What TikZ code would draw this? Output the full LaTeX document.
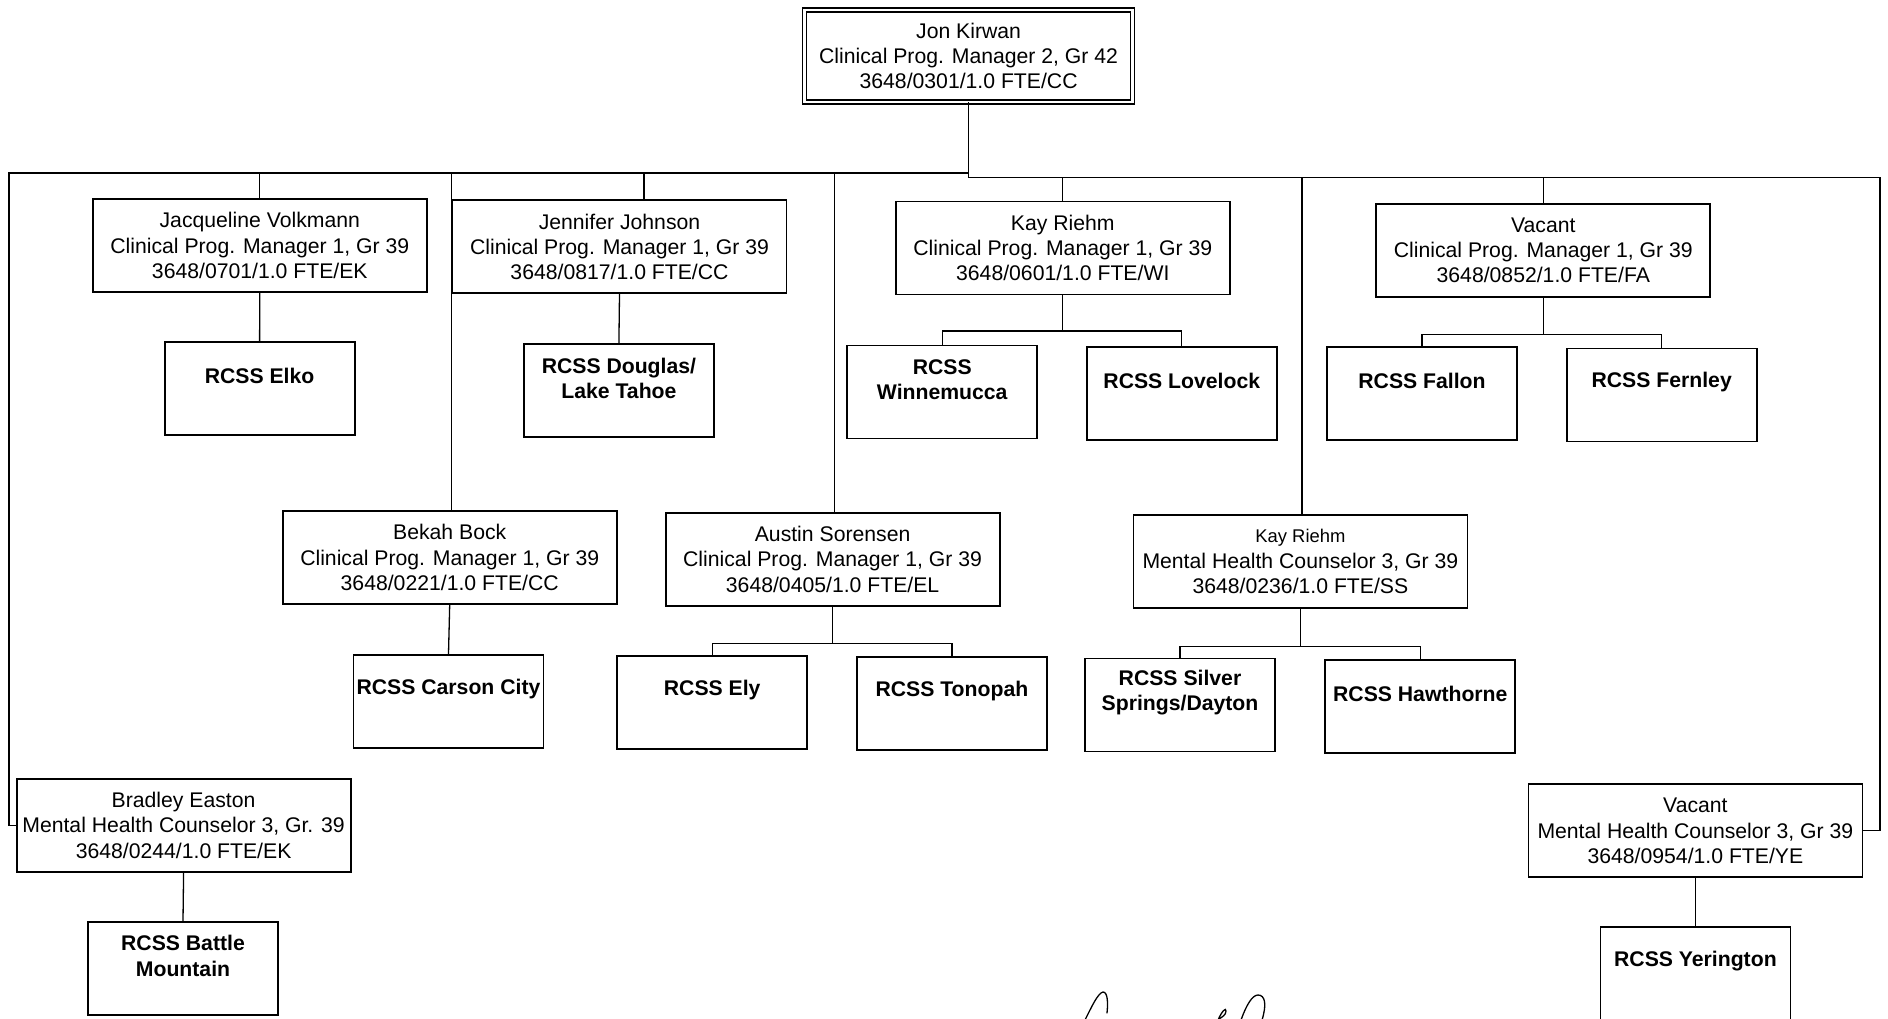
\documentclass[tikz,border=0pt]{standalone}
\usepackage{fontspec}
\setmainfont{Liberation Sans}
\begin{document}
\begin{tikzpicture}[x=1pt,y=-1pt,
  conn/.style={line width=1.3pt,line cap=rect},
  boxbase/.style={draw,line width=1.8pt,inner sep=0pt,fill=white},
  mgr/.style={boxbase,minimum width=334pt,minimum height=93pt,align=center,font=\fontsize{21.2}{25.3}\selectfont},
  site/.style={boxbase,minimum width=190pt,minimum height=93pt},
  sitetext/.style={inner sep=0pt,align=center,font=\bfseries\fontsize{21.2}{25.3}\selectfont},
  topbox/.style={draw,double,double distance=2.6pt,line width=1.4pt,inner sep=0pt,minimum width=328pt,minimum height=92pt,align=center,font=\fontsize{21.2}{25.3}\selectfont},
  sig/.style={line width=1.3pt,line cap=round}]
\useasboundingbox (0,0) rectangle (1888,1018);
\clip (0,0) rectangle (1888,1018);
\fill[white] (0,0) rectangle (1888,1018);

% bus coordinates
\coordinate (busL) at (9,173);
\coordinate (busM) at (968.6,173);
\coordinate (busMR) at (968.6,177.5);
\coordinate (busR) at (1880,177.5);
\coordinate (jjd) at (644,173);
\coordinate (bbd) at (451.5,173);
\coordinate (asd) at (834.5,173);
\coordinate (kr2d) at (1302,177.5);

% top
\node[topbox] (jk) at (968.6,56) {Jon Kirwan\\Clinical Prog. Manager 2, Gr 42\\3648/0301/1.0 FTE/CC};

% row 1 managers
\node[mgr] (jv) at (259.8,245.5) {Jacqueline Volkmann\\Clinical Prog. Manager 1, Gr 39\\3648/0701/1.0 FTE/EK};
\node[mgr] (jj) at (619.5,246.8) {Jennifer Johnson\\Clinical Prog. Manager 1, Gr 39\\3648/0817/1.0 FTE/CC};
\node[mgr] (kr1) at (1062.8,248) {Kay Riehm\\Clinical Prog. Manager 1, Gr 39\\3648/0601/1.0 FTE/WI};
\node[mgr] (vac1) at (1543.3,250.4) {Vacant\\Clinical Prog. Manager 1, Gr 39\\3648/0852/1.0 FTE/FA};

% row 1 sites
\node[site] (elko) at (259.6,388.3) {};
\node[sitetext] (elkot) at ([yshift=12.6pt]elko.center) {RCSS Elko};
\node[site] (doug) at (618.9,390.7) {};
\node[sitetext] (dougt) at ([yshift=12.6pt]doug.center) {RCSS Douglas/\\Lake Tahoe};
\node[site] (winn) at (942.2,392) {};
\node[sitetext] (winnt) at ([yshift=12.6pt]winn.center) {RCSS\\Winnemucca};
\node[site] (love) at (1181.8,393.2) {};
\node[sitetext] (lovet) at ([yshift=12.6pt]love.center) {RCSS Lovelock};
\node[site] (fallon) at (1422,393.8) {};
\node[sitetext] (fallont) at ([yshift=12.6pt]fallon.center) {RCSS Fallon};
\node[site] (fern) at (1661.7,395) {};
\node[sitetext] (fernt) at ([yshift=12.6pt]fern.center) {RCSS Fernley};

% row 2 managers
\node[mgr] (bb) at (449.7,557.5) {Bekah Bock\\Clinical Prog. Manager 1, Gr 39\\3648/0221/1.0 FTE/CC};
\node[mgr] (as) at (832.6,559.3) {Austin Sorensen\\Clinical Prog. Manager 1, Gr 39\\3648/0405/1.0 FTE/EL};
\node[mgr] (kr2) at (1300.4,561.5) {{\fontsize{18.4}{25.3}\selectfont Kay Riehm}\\Mental Health Counselor 3, Gr 39\\3648/0236/1.0 FTE/SS};

% row 2 sites
\node[site] (carson) at (448.5,701.2) {};
\node[sitetext] (carsont) at ([yshift=12.6pt]carson.center) {RCSS Carson City};
\node[site] (ely) at (712.2,702.6) {};
\node[sitetext] (elyt) at ([yshift=12.6pt]ely.center) {RCSS Ely};
\node[site] (tono) at (951.9,703.8) {};
\node[sitetext] (tonot) at ([yshift=12.6pt]tono.center) {RCSS Tonopah};
\node[site] (silver) at (1180,705) {};
\node[sitetext] (silvert) at ([yshift=12.6pt]silver.center) {RCSS Silver\\Springs/Dayton};
\node[site] (haw) at (1420.3,706.2) {};
\node[sitetext] (hawt) at ([yshift=12.6pt]haw.center) {RCSS Hawthorne};

% row 3
\node[mgr] (be) at (183.6,825.4) {Bradley Easton\\Mental Health Counselor 3, Gr. 39\\3648/0244/1.0 FTE/EK};
\node[mgr] (vac2) at (1695.4,830.8) {Vacant\\Mental Health Counselor 3, Gr 39\\3648/0954/1.0 FTE/YE};
\node[site] (battle) at (183,968.5) {};
\node[sitetext] (battlet) at ([yshift=12.6pt]battle.center) {RCSS Battle\\Mountain};
\node[site] (yer) at (1695.4,973.5) {};
\node[sitetext] (yert) at ([yshift=12.6pt]yer.center) {RCSS Yerington};

% main bus
\draw[conn] (jk.south) -- (busMR);
\draw[conn] (busL) -- (busM);
\draw[conn] (busMR) -- (busR);
\draw[conn] (busL) |- (be.west);
\draw[conn] (busR) |- (vac2.east);
\draw[conn] (jv.north |- busL) -- (jv.north);
\draw[conn] (jjd) -- (jjd |- jj.north);
\draw[conn] (bbd) -- (bbd |- bb.north);
\draw[conn] (asd) -- (asd |- as.north);
\draw[conn] (kr1.north |- busR) -- (kr1.north);
\draw[conn] (kr2d) -- (kr2d |- kr2.north);
\draw[conn] (vac1.north |- busR) -- (vac1.north);

% single links
\draw[conn] (jv.south) -- (elko.north);
\draw[conn] (jj.south) -- (doug.north);
\draw[conn] (bb.south) -- (carson.north);
\draw[conn] (be.south) -- (battle.north);
\draw[conn] (vac2.south) -- (yer.north);

% forks
\coordinate (kr1b) at (1062.8,331);
\draw[conn] (kr1.south) -- (kr1b);
\draw[conn] (winn.north) -- (winn.north |- kr1b) -- (love.north |- kr1b) -- (love.north);
\coordinate (vac1b) at (1543.3,334.7);
\draw[conn] (vac1.south) -- (vac1b);
\draw[conn] (fallon.north) -- (fallon.north |- vac1b) -- (fern.north |- vac1b) -- (fern.north);
\coordinate (asb) at (832.6,643.5);
\draw[conn] (as.south) -- (asb);
\draw[conn] (ely.north) -- (ely.north |- asb) -- (tono.north |- asb) -- (tono.north);
\coordinate (kr2b) at (1300.4,646.2);
\draw[conn] (kr2.south) -- (kr2b);
\draw[conn] (silver.north) -- (silver.north |- kr2b) -- (haw.north |- kr2b) -- (haw.north);

% signature fragment
\draw[sig] (1085,1020) .. controls (1092,1006) and (1098,993) .. (1103,992) .. controls (1108,992) and (1108,1004) .. (1107,1013);
\draw[sig] (1218,1020) .. controls (1222,1011) and (1226,1007) .. (1226,1011) .. controls (1226,1015) and (1222,1017) .. (1219,1019);
\draw[sig] (1241,1020) .. controls (1246,1006) and (1252,995) .. (1258,995) .. controls (1265,995) and (1267,1004) .. (1262,1020);
\end{tikzpicture}
\end{document}
